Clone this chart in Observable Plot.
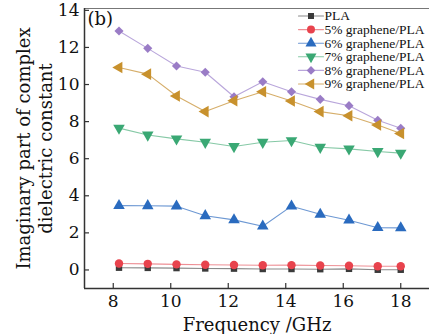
<!DOCTYPE html>
<html>
<head>
<meta charset="utf-8">
<script src="https://cdn.jsdelivr.net/npm/d3@7"></script>
<script src="https://cdn.jsdelivr.net/npm/@observablehq/plot@0.6"></script>
<style>
  html, body { margin: 0; padding: 0; background: #fff; }
  #chart { width: 429px; height: 334px; }
</style>
</head>
<body>
<div id="chart"></div>
<script>
// ---- data ----
const frequency = [8.2, 9.2, 10.2, 11.2, 12.2, 13.2, 14.2, 15.2, 16.2, 17.2, 18.0];
const seriesNames = ["PLA", "5% graphene/PLA", "6% graphene/PLA", "7% graphene/PLA", "8% graphene/PLA", "9% graphene/PLA"];
const pla       = [0.12, 0.11, 0.10, 0.08, 0.07, 0.05, 0.05, 0.04, 0.06, 0.01, 0.01];
const g5        = [0.35, 0.33, 0.30, 0.28, 0.27, 0.25, 0.26, 0.24, 0.23, 0.20, 0.20];
const g6        = [3.47, 3.46, 3.44, 2.92, 2.70, 2.36, 3.44, 3.00, 2.68, 2.28, 2.27];
const g7        = [7.65, 7.28, 7.07, 6.89, 6.66, 6.89, 6.98, 6.62, 6.53, 6.39, 6.30];
const g8        = [12.89, 11.95, 11.00, 10.66, 9.34, 10.15, 9.61, 9.20, 8.86, 8.07, 7.64];
const g9        = [10.92, 10.56, 9.38, 8.54, 9.13, 9.61, 9.11, 8.54, 8.32, 7.82, 7.36];
const seriesValues = [pla, g5, g6, g7, g8, g9];
const xTicks = [8, 10, 12, 14, 16, 18];
const yTicks = [0, 2, 4, 6, 8, 10, 12, 14];
const xDomain = [7, 19];
const yDomain = [-1, 14.1];

// ---- styles ----
const markerColors = ["#3a3a3a", "#e8434d", "#2a6bbf", "#3aa874", "#9a7cc6", "#c8912d"];
const lineColors   = ["#8a8a8a", "#ee8f95", "#6d98d3", "#86c9a6", "#b9a6db", "#d6ae6a"];

const sqrt3 = Math.sqrt(3);
const triUp = {draw(ctx, size) { const y = -Math.sqrt(size / (sqrt3 * 3)); ctx.moveTo(0, y * 2); ctx.lineTo(-sqrt3 * y, -y); ctx.lineTo(sqrt3 * y, -y); ctx.closePath(); }};
const triDown = {draw(ctx, size) { const y = -Math.sqrt(size / (sqrt3 * 3)); ctx.moveTo(0, -y * 2); ctx.lineTo(-sqrt3 * y, y); ctx.lineTo(sqrt3 * y, y); ctx.closePath(); }};
const triLeft = {draw(ctx, size) { const y = -Math.sqrt(size / (sqrt3 * 3)); ctx.moveTo(y * 2, 0); ctx.lineTo(-y, -sqrt3 * y); ctx.lineTo(-y, sqrt3 * y); ctx.closePath(); }};
const symbols = ["square", "circle", triUp, triDown, "diamond2", triLeft];
const radii = [3.6, 4.2, 4.3, 4.3, 4.1, 4.3];

const rows = [];
seriesNames.forEach((name, si) => {
  frequency.forEach((f, i) => rows.push({series: name, si, x: f, y: seriesValues[si][i]}));
});

const W = 429, H = 334, mL = 84, mR = 0, mT = 8, mB = 46;
const plotW = W - mL - mR, plotH = H - mT - mB;
const font = "DejaVu Serif";

const marks = [];
// frame lines
marks.push(Plot.ruleY([yDomain[1]], {stroke: "#777", strokeWidth: 1.2}));
marks.push(Plot.ruleX([xDomain[0]], {stroke: "#333", strokeWidth: 1.5}));
marks.push(Plot.ruleY([yDomain[0]], {stroke: "#333", strokeWidth: 1.5}));
// inward ticks
marks.push(Plot.ruleY(yTicks, {stroke: "#333", strokeWidth: 1.2, insetRight: plotW - 5}));
marks.push(Plot.ruleX(xTicks, {stroke: "#333", strokeWidth: 1.2, insetTop: plotH - 5}));
// axes labels
marks.push(Plot.axisY({ticks: yTicks, tickSize: 0, tickPadding: 5, label: null, fontSize: 17, tickFormat: d => String(d)}));
marks.push(Plot.axisX({ticks: xTicks, tickSize: 0, tickPadding: 6, label: null, fontSize: 17, tickFormat: d => String(d)}));
// data
seriesNames.forEach((name, si) => {
  const d = rows.filter(r => r.si === si);
  marks.push(Plot.line(d, {x: "x", y: "y", stroke: lineColors[si], strokeWidth: 1.1}));
});
seriesNames.forEach((name, si) => {
  const d = rows.filter(r => r.si === si);
  marks.push(Plot.dot(d, {x: "x", y: "y", symbol: () => symbols[si], r: radii[si], fill: markerColors[si], stroke: "none"}));
});
// legend
const legX0 = 298 - mL, legY0 = 15.5 - mT, legStep = 13.6;
const segShape = {draw(ctx, l) { ctx.moveTo(0, 0); ctx.lineTo(0, -l); }};
seriesNames.forEach((name, si) => {
  const dy = legY0 + si * legStep;
  marks.push(Plot.vector([name], {frameAnchor: "top-left", dx: legX0, dy, length: 25, rotate: 90, anchor: "start", shape: segShape, stroke: lineColors[si], strokeWidth: 1.1}));
  marks.push(Plot.dot([name], {frameAnchor: "top-left", dx: legX0 + 12.5, dy, symbol: () => symbols[si], r: radii[si] * 0.95, fill: markerColors[si], stroke: "none"}));
  marks.push(Plot.text([name], {frameAnchor: "top-left", dx: legX0 + 26, dy, text: d => d, textAnchor: "start", lineAnchor: "middle", fontSize: 13.5, fontFamily: "Liberation Serif", fill: "#111"}));
});
// panel label
marks.push(Plot.text(["(b)"], {frameAnchor: "top-left", dx: 3, dy: 11, text: d => d, textAnchor: "start", lineAnchor: "middle", fontSize: 18, fill: "#111"}));
// axis titles
marks.push(Plot.text(["Imaginary part of complex\ndielectric constant"], {frameAnchor: "left", dx: 33.5 - mL, text: d => d, rotate: -90, textAnchor: "middle", lineAnchor: "middle", lineHeight: 1.25, fontSize: 18, fill: "#111"}));
marks.push(Plot.text(["Frequency /GHz"], {frameAnchor: "bottom", dy: 37, dx: 0, text: d => d, textAnchor: "middle", lineAnchor: "middle", fontSize: 18, fill: "#111"}));

const chart = Plot.plot({
  width: W, height: H,
  marginLeft: mL, marginRight: mR, marginTop: mT, marginBottom: mB,
  x: {domain: xDomain},
  y: {domain: yDomain},
  style: {fontFamily: font, color: "#111", background: "#fff", overflow: "visible"},
  marks
});
document.getElementById("chart").appendChild(chart);
</script>
</body>
</html>
